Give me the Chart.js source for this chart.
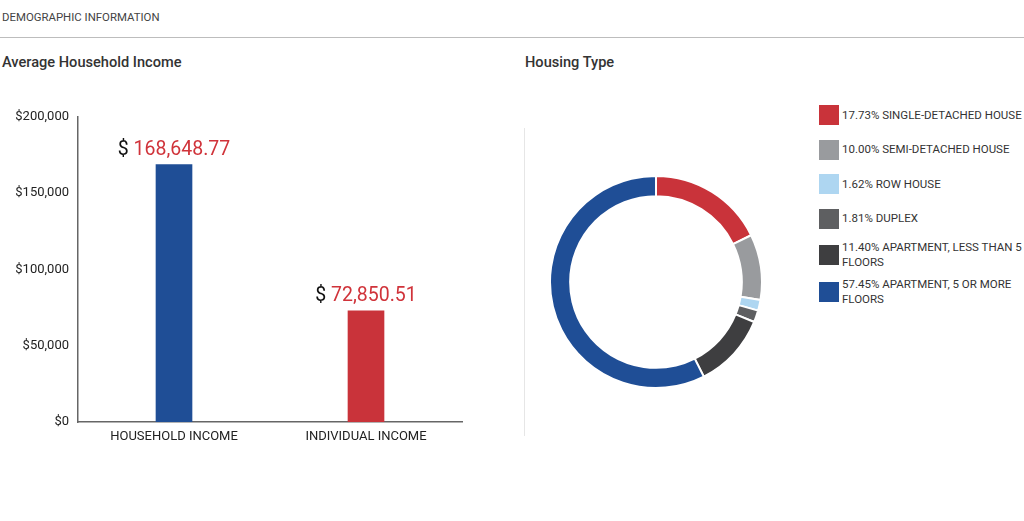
<!DOCTYPE html>
<html>
<head>
<meta charset="utf-8">
<script src="https://cdn.jsdelivr.net/npm/chart.js@4.4.0/dist/chart.umd.min.js"></script>
<style>
  html, body { margin:0; padding:0; background:#fff; width:1024px; height:521px; overflow:hidden; font-family: Roboto, "Noto Sans", sans-serif; }
  .abs { position:absolute; }
  #hdr { left:2px; top:10px; font-size:11.4px; color:#444; }
  #rule { left:0; top:37px; width:1024px; height:1px; background:#bdbdbd; }
  .ttl { top:53px; font-size:14.6px; font-weight:500; color:#333; }
  #divider { left:524px; top:128px; width:1px; height:308px; background:#e6e6e6; }
  #barWrap { left:0; top:100px; width:470px; height:350px; }
  #pieWrap { left:549px; top:175px; width:214px; height:214px; }
  #legend { left:819px; top:98px; width:205px; }
  .row { display:flex; align-items:center; min-height:27px; padding:3.75px 0; }
  .box { width:20px; height:20px; flex:0 0 20px; margin-right:3px; }
  .lbl { font-size:11.5px; line-height:15px; color:#333; width:182px; }
</style>
</head>
<body>
<div id="hdr" class="abs">DEMOGRAPHIC INFORMATION</div>
<div id="rule" class="abs"></div>
<div class="abs ttl" style="left:2px">Average Household Income</div>
<div class="abs ttl" style="left:525px">Housing Type</div>
<div id="divider" class="abs"></div>
<div id="barWrap" class="abs"><canvas id="bar"></canvas></div>
<div id="pieWrap" class="abs"><canvas id="pie"></canvas></div>
<div id="legend" class="abs"></div>
<script>
const incomeCategories = ["HOUSEHOLD INCOME", "INDIVIDUAL INCOME"];
const incomeValues = [168648.77, 72850.51];
const incomeColors = ["#1f4e96", "#c9333a"];
const incomeTicks = [0, 50000, 100000, 150000, 200000];

const housingTypes = ["SINGLE-DETACHED HOUSE", "SEMI-DETACHED HOUSE", "ROW HOUSE", "DUPLEX", "APARTMENT, LESS THAN 5 FLOORS", "APARTMENT, 5 OR MORE FLOORS"];
const housingShares = [17.73, 10.00, 1.62, 1.81, 11.40, 57.45];
const housingColors = ["#c9333a", "#999b9e", "#aed6f1", "#5e5f61", "#3e3e40", "#1f4e96"];

const fmtTick = v => "$" + v.toLocaleString("en-US");
const fmtVal = v => v.toLocaleString("en-US", {minimumFractionDigits:2, maximumFractionDigits:2});

const valueLabels = {
  id: "valueLabels",
  afterDatasetsDraw(chart) {
    const ctx = chart.ctx;
    const meta = chart.getDatasetMeta(0);
    ctx.save();
    ctx.font = "19.5px Roboto";
    ctx.textBaseline = "alphabetic";
    meta.data.forEach((bar, i) => {
      const pre = "$ ";
      const num = fmtVal(incomeValues[i]);
      const w1 = ctx.measureText(pre).width;
      const w2 = ctx.measureText(num).width;
      const x0 = bar.x - (w1 + w2) / 2;
      const y = bar.y - 10;
      ctx.textAlign = "left";
      ctx.fillStyle = "#111";
      ctx.fillText(pre, x0, y);
      ctx.fillStyle = "#d0333a";
      ctx.fillText(num, x0 + w1, y);
    });
    ctx.restore();
  }
};

new Chart(document.getElementById("bar"), {
  type: "bar",
  data: {
    labels: incomeCategories,
    datasets: [{ data: incomeValues, backgroundColor: incomeColors, barThickness: 36 }]
  },
  options: {
    responsive: true,
    maintainAspectRatio: false,
    animation: false,
    layout: { padding: { top: 14, right: 8, left: 0, bottom: 0 } },
    plugins: { legend: { display: false }, tooltip: { enabled: false } },
    scales: {
      x: {
        grid: { display: false, drawTicks: false },
        border: { display: true, color: "#666", width: 1.5 },
        ticks: { color: "#222", font: { family: "Roboto", size: 13 }, padding: 7, maxRotation: 0 },
        afterFit(s) { s.height = 28; }
      },
      y: {
        min: 0, max: 200000,
        afterBuildTicks(s) { s.ticks = incomeTicks.map(v => ({ value: v })); },
        grid: { display: false, drawTicks: false },
        border: { display: true, color: "#666", width: 1.5 },
        ticks: { color: "#222", font: { family: "Roboto", size: 13 }, padding: 9, callback: v => fmtTick(v) },
        afterFit(s) { s.width = 78; }
      }
    }
  },
  plugins: [valueLabels]
});

new Chart(document.getElementById("pie"), {
  type: "doughnut",
  data: {
    labels: housingTypes,
    datasets: [{ data: housingShares, backgroundColor: housingColors, borderColor: "#fff", borderWidth: 2 }]
  },
  options: {
    responsive: true,
    maintainAspectRatio: false,
    animation: false,
    cutout: "81%",
    layout: { padding: 0 },
    plugins: { legend: { display: false }, tooltip: { enabled: false } }
  }
});

const legend = document.getElementById("legend");
housingTypes.forEach((t, i) => {
  const row = document.createElement("div");
  row.className = "row";
  const box = document.createElement("div");
  box.className = "box";
  box.style.background = housingColors[i];
  const lbl = document.createElement("div");
  lbl.className = "lbl";
  lbl.textContent = housingShares[i].toFixed(2) + "% " + t;
  row.appendChild(box);
  row.appendChild(lbl);
  legend.appendChild(row);
});
</script>
</body>
</html>
